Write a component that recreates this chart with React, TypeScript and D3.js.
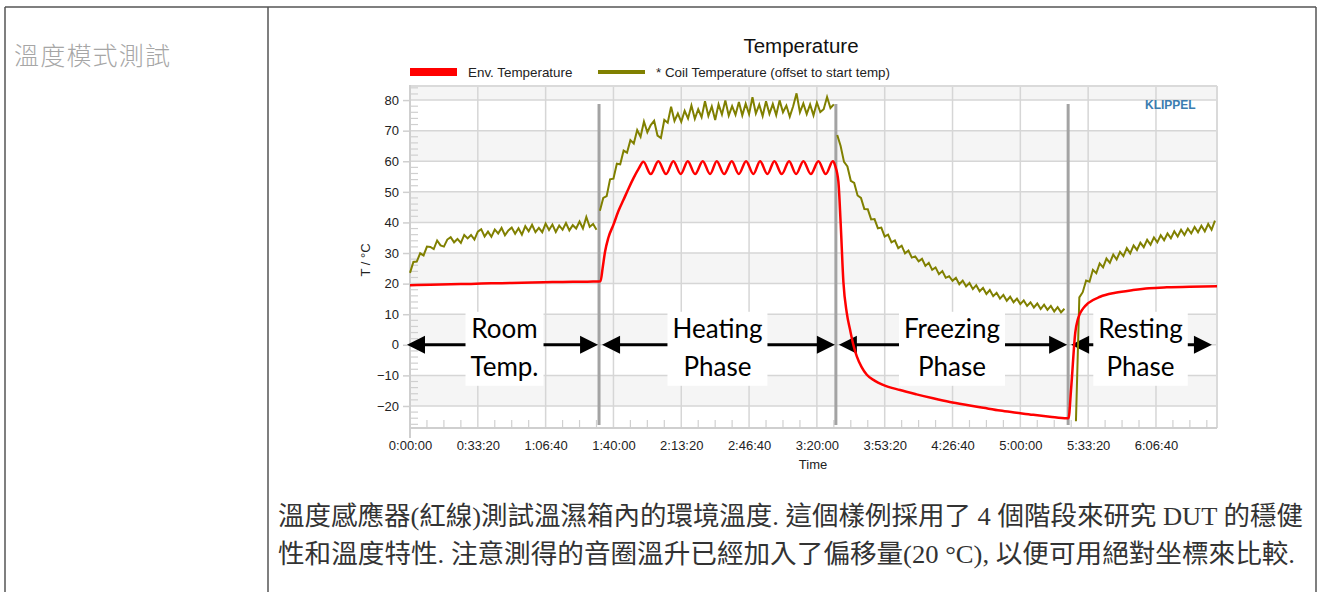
import React, { useEffect, useRef } from 'react'
import * as d3 from 'd3'

const W = 1323
const H = 592

// 軸刻度
const timeTicks = [0, 2000, 4000, 6000, 8000, 10000, 12000, 14000, 16000, 18000, 20000, 22000]
const tempTicks = [-20, -10, 0, 10, 20, 30, 40, 50, 60, 70, 80]

// 階段 (秒)
const phaseBounds = [5575, 12560, 19410]
const phaseSpans = [[0, 5575], [5575, 12560], [12560, 19410], [19410, 23680]]
const phaseNames = [['Room', 'Temp.'], ['Heating', 'Phase'], ['Freezing', 'Phase'], ['Resting', 'Phase']]

// 環境溫度 [秒, °C]
const envTemp = [
  [0, 19.5], [600, 19.6], [1200, 19.8], [1800, 19.9], [2400, 20.1], [3000, 20.2], [3600, 20.4],
  [4200, 20.5], [4800, 20.6], [5400, 20.7], [5620, 20.8],
  [5680, 25.0], [5752, 30.4], [5850, 35.0], [5998, 39.2], [6150, 43.8], [6293, 47.3], [6450, 51.2],
  [6588, 54.4], [6740, 57.5], [6882, 59.8],
  [7100, 55.8], [7324, 60], [7552, 55.8], [7767, 60], [7985, 55.8], [8192, 60], [8407, 55.8],
  [8634, 60], [8850, 55.8], [9047, 60], [9263, 55.8], [9490, 60], [9696, 55.8], [9912, 60],
  [10127, 55.8], [10324, 60], [10540, 55.8], [10746, 60], [10965, 55.8], [11180, 60], [11386, 55.8],
  [11602, 60], [11820, 55.8], [12044, 60], [12263, 55.8], [12469, 60],
  [12540, 58.5], [12634, 53.3], [12700, 40], [12782, 20.5], [12880, 10.5], [12979, 4.9], [13080, -0.2],
  [13177, -3.8], [13320, -7.3], [13472, -9.8], [13700, -11.7], [13953, -13.1], [14454, -14.8],
  [14940, -16.2], [15428, -17.5], [15920, -18.7], [16422, -19.7], [16910, -20.6], [17404, -21.5],
  [17890, -22.2], [18378, -22.9], [18870, -23.5], [19372, -24],
  [19420, -24], [19500, -14], [19620, 4], [19700, 8.5], [19853, 11.9], [20000, 13.6], [20354, 15.7],
  [20800, 17], [21327, 17.9], [21800, 18.5], [22321, 18.8], [23000, 19], [23800, 19.1],
]

// 音圈溫度 (每 100 秒一點, 每個階段一段)
const COIL_STEP = 100
const coilStarts = [0, 5600, 12600, 19640]
const coilRoom = [
  23.5, 27.1, 27.2, 29.9, 29.2, 32.1, 32.0, 31.3, 34.1, 32.5,
  32.1, 34.4, 35.2, 33.5, 34.6, 33.3, 35.9, 34.8, 35.9, 34.4,
  37.0, 37.8, 35.4, 37.0, 35.3, 37.7, 36.4, 38.2, 35.8, 37.4,
  38.3, 36.3, 38.1, 36.0, 38.8, 37.1, 39.2, 36.8, 38.2, 36.8,
  39.6, 37.5, 39.3, 36.9, 39.0, 37.6, 39.8, 37.4, 39.1, 38.0,
  40.3, 38.0, 41.8, 38.6, 39.5, 37.6,
]
const coilHeat = [
  43.8, 48.0, 48.6, 54.1, 54.3, 59.2, 59.0, 63.5, 62.8, 66.9,
  65.8, 70.2, 68.0, 73.0, 69.5, 71.8, 73.2, 68.4, 67.6, 73.5,
  72.6, 77.8, 73.2, 75.6, 72.9, 76.5, 74.0, 78.2, 73.9, 77.0,
  74.4, 79.6, 74.8, 77.9, 73.5, 78.6, 75.3, 79.9, 74.9, 78.0,
  75.2, 79.4, 75.0, 78.8, 75.4, 80.9, 75.6, 78.5, 74.8, 79.6,
  75.5, 78.7, 75.1, 79.9, 76.0, 78.2, 74.6, 78.0, 82.2, 76.0,
  78.9, 75.4, 78.6, 75.0, 79.2, 76.1, 77.0, 81.0, 77.4, 78.6,
]
const coilFreeze = [
  68.6, 65.0, 59.8, 58.3, 53.6, 52.9, 48.8, 48.0, 44.4, 44.3,
  41.0, 41.1, 38.1, 38.3, 35.4, 36.0, 33.5, 34.1, 31.6, 32.4,
  29.9, 30.8, 28.5, 28.9, 27.3, 28.1, 25.8, 26.8, 24.5, 25.3,
  23.1, 24.1, 21.9, 22.4, 20.9, 21.9, 19.8, 21.0, 19.1, 20.2,
  18.2, 19.5, 17.5, 18.6, 16.6, 17.9, 15.9, 17.0, 15.1, 16.3,
  14.4, 15.7, 13.9, 15.1, 13.3, 14.5, 12.7, 13.9, 12.2, 13.5,
  11.7, 13.1, 11.4, 12.7, 10.9, 12.3, 10.6, 11.8,
]
const coilRest = [
  -25, 15.5, 17.2, 21.0, 20.6, 24.5, 23.4, 26.6, 25.3, 28.2,
  26.8, 29.5, 27.9, 30.4, 29.0, 31.6, 29.9, 32.5, 31.0, 33.4,
  31.9, 34.3, 32.7, 35.1, 33.5, 35.8, 34.2, 36.4, 34.8, 37.1,
  35.4, 37.6, 35.9, 38.0, 36.4, 38.5, 36.8, 38.9, 37.1, 39.5,
  37.6, 40.6,
]
const coilSegments = [coilRoom, coilHeat, coilFreeze, coilRest]

const legendItems = [
  { label: 'Env. Temperature', color: '#ff0000', h: 8 },
  { label: '* Coil Temperature (offset to start temp)', color: '#808000', h: 4 },
]

const noteLines = [
  '溫度感應器(紅線)測試溫濕箱內的環境溫度. 這個樣例採用了 4 個階段來研究 DUT 的穩健',
  '性和溫度特性. 注意測得的音圈溫升已經加入了偏移量(20 °C), 以便可用絕對坐標來比較.',
]
const noteWidths = [1025, 1017]

const pad2 = (n: number) => String(n).padStart(2, '0')
const fmtTime = (s: number) =>
  `${Math.floor(s / 3600)}:${pad2(Math.floor((s % 3600) / 60))}:${pad2(s % 60)}`

const SANS = "'Liberation Sans', Arial, sans-serif"

export default function App() {
  const ref = useRef<SVGSVGElement>(null)

  useEffect(() => {
    const svg = d3.select(ref.current)
    svg.selectAll('*').remove()

    // 表格框線
    const frame = svg.append('g').attr('stroke', '#555').attr('stroke-width', 1.5)
    frame.append('line').attr('x1', 5).attr('x2', 1316).attr('y1', 7).attr('y2', 7)
    frame.append('line').attr('x1', 5).attr('x2', 5).attr('y1', 7).attr('y2', H)
    frame.append('line').attr('x1', 268).attr('x2', 268).attr('y1', 7).attr('y2', H)
    frame.append('line').attr('x1', 1316).attr('x2', 1316).attr('y1', 7).attr('y2', H)

    svg.append('text')
      .attr('x', 14).attr('y', 65)
      .attr('font-family', "'Noto Sans CJK TC', sans-serif")
      .attr('font-weight', 300)
      .attr('font-size', 25)
      .attr('letter-spacing', 1.2)
      .attr('fill', '#a6a6a6')
      .text('溫度模式測試')

    noteLines.forEach((line, i) => {
      svg.append('text')
        .attr('x', 278).attr('y', 525 + i * 38)
        .attr('font-family', "'Liberation Serif', 'Noto Sans CJK TC', serif")
        .attr('font-size', 26)
        .attr('fill', '#333')
        .attr('textLength', noteWidths[i])
        .attr('lengthAdjust', 'spacingAndGlyphs')
        .text(line)
    })

    // 圖表
    const left = 410, right = 1217, top = 86, bottom = 428
    const x = d3.scaleLinear().domain([0, 23800]).range([left, right])
    const y = d3.scaleLinear().domain([-27.2, 84.6]).range([bottom, top])

    const g = svg.append('g')

    // 背景條紋
    d3.range(-30, 90, 10).forEach(k => {
      if ((k / 10) % 2 !== 0) return
      const lo = Math.max(k, -27.2), hi = Math.min(k + 10, 84.6)
      g.append('rect')
        .attr('x', left).attr('width', right - left)
        .attr('y', y(hi)).attr('height', y(lo) - y(hi))
        .attr('fill', '#f5f5f5')
    })

    // 格線
    g.selectAll('.hgrid').data(tempTicks).join('line')
      .attr('x1', left).attr('x2', right)
      .attr('y1', d => y(d)).attr('y2', d => y(d))
      .attr('stroke', '#d6d6d6').attr('stroke-width', 1.5)
    g.selectAll('.vgrid').data(timeTicks.filter(d => d > 0)).join('line')
      .attr('x1', d => x(d)).attr('x2', d => x(d))
      .attr('y1', top).attr('y2', bottom)
      .attr('stroke', '#d6d6d6').attr('stroke-width', 1.5)

    // 小刻度
    g.selectAll('.ymin').data(d3.range(-26, 85, 2).filter(d => d % 10 !== 0)).join('line')
      .attr('x1', left).attr('x2', left + 8)
      .attr('y1', d => y(d)).attr('y2', d => y(d))
      .attr('stroke', '#d0d0d0').attr('stroke-width', 1.2)
    g.selectAll('.xmin').data(d3.range(500, 23800, 500).filter(d => d % 2000 !== 0)).join('line')
      .attr('x1', d => x(d)).attr('x2', d => x(d))
      .attr('y1', bottom - 8).attr('y2', bottom)
      .attr('stroke', '#d0d0d0').attr('stroke-width', 1.2)

    // 外框
    g.append('line').attr('x1', left).attr('x2', right).attr('y1', top).attr('y2', top)
      .attr('stroke', '#dadada').attr('stroke-width', 2)
    g.append('line').attr('x1', right).attr('x2', right).attr('y1', top).attr('y2', bottom)
      .attr('stroke', '#dadada').attr('stroke-width', 2)
    g.append('line').attr('x1', left).attr('x2', right).attr('y1', bottom).attr('y2', bottom)
      .attr('stroke', '#cfcfcf').attr('stroke-width', 2)
    g.append('line').attr('x1', left).attr('x2', left).attr('y1', top - 1).attr('y2', bottom + 10)
      .attr('stroke', '#cfcfcf').attr('stroke-width', 2)

    // 軸
    const yAxis = g.append('g').attr('transform', `translate(${left},0)`)
      .call(d3.axisLeft(y).tickValues(tempTicks).tickSize(7).tickPadding(4))
    yAxis.select('.domain').remove()
    yAxis.selectAll('line').attr('stroke', '#cfcfcf').attr('stroke-width', 1.5)
    yAxis.selectAll('text').attr('font-family', SANS).attr('font-size', 13).attr('fill', '#222')

    const xAxis = g.append('g').attr('transform', `translate(0,${bottom})`)
      .call(d3.axisBottom(x).tickValues(timeTicks).tickSize(0).tickPadding(13).tickFormat(d => fmtTime(+d)))
    xAxis.select('.domain').remove()
    xAxis.selectAll('text').attr('font-family', SANS).attr('font-size', 13).attr('fill', '#222')

    g.append('text').attr('x', 813).attr('y', 469).attr('text-anchor', 'middle')
      .attr('font-family', SANS).attr('font-size', 13).attr('fill', '#222').text('Time')
    g.append('text').attr('transform', 'translate(370,260) rotate(-90)').attr('text-anchor', 'middle')
      .attr('font-family', SANS).attr('font-size', 13).attr('fill', '#222').text('T / °C')

    // 標題與圖例
    svg.append('text').attr('x', 801).attr('y', 53).attr('text-anchor', 'middle')
      .attr('font-family', SANS).attr('font-size', 20.5).attr('fill', '#111').text('Temperature')
    const legendX = [410, 598]
    legendItems.forEach((it, i) => {
      svg.append('rect').attr('x', legendX[i]).attr('y', 72 - it.h / 2)
        .attr('width', 47).attr('height', it.h).attr('fill', it.color)
      svg.append('text').attr('x', legendX[i] + 58).attr('y', 76.5)
        .attr('font-family', SANS).attr('font-size', 13.4).attr('fill', '#222').text(it.label)
    })
    svg.append('text').attr('x', 1145).attr('y', 109)
      .attr('font-family', SANS).attr('font-weight', 'bold').attr('font-size', 12)
      .attr('fill', '#3b7db0').text('KLIPPEL')

    // 階段分隔線
    g.selectAll('.phase').data(phaseBounds).join('line')
      .attr('x1', d => x(d)).attr('x2', d => x(d))
      .attr('y1', 104).attr('y2', bottom - 3)
      .attr('stroke', '#a3a3a3').attr('stroke-width', 3)

    // 箭頭與標註
    const y0 = y(0)
    phaseSpans.forEach(([t0, t1], i) => {
      const xa = x(t0) + (i === 0 ? -3 : 3)
      const xb = x(t1) - 1
      g.append('line').attr('x1', xa + 10).attr('x2', xb - 10).attr('y1', y0).attr('y2', y0)
        .attr('stroke', '#000').attr('stroke-width', 3)
      g.append('path').attr('d', `M${xa},${y0}L${xa + 18},${y0 - 9}L${xa + 18},${y0 + 9}Z`).attr('fill', '#000')
      g.append('path').attr('d', `M${xb},${y0}L${xb - 18},${y0 - 9}L${xb - 18},${y0 + 9}Z`).attr('fill', '#000')
      const cx = (x(t0) + x(t1)) / 2
      const box = g.append('rect').attr('fill', '#fff')
      const lines = phaseNames[i].map((s, j) =>
        g.append('text').attr('x', cx).attr('y', y0 - 7 + j * 38).attr('text-anchor', 'middle')
          .attr('font-family', 'Lato, sans-serif').attr('font-size', 26).attr('fill', '#000').text(s))
      const w = Math.max(...lines.map(t => (t.node() as SVGTextElement).getComputedTextLength())) + 10
      box.attr('x', cx - w / 2).attr('y', y0 - 33).attr('width', w).attr('height', 74)
    })

    // 數據線
    const line = d3.line<number[]>().x(d => x(d[0])).y(d => y(d[1]))
    coilSegments.forEach((vals, i) => {
      const pts = vals.map((v, j) => [coilStarts[i] + j * COIL_STEP, v])
      g.append('path').attr('d', line(pts) as string)
        .attr('fill', 'none').attr('stroke', '#808000').attr('stroke-width', 2)
    })
    g.append('path').attr('d', line.curve(d3.curveMonotoneX)(envTemp) as string)
      .attr('fill', 'none').attr('stroke', '#ff0000').attr('stroke-width', 2.5)
      .attr('stroke-linejoin', 'round')
  }, [])

  return (
    <svg ref={ref} width={W} height={H}
      style={{ position: 'absolute', left: 0, top: 0, background: '#fff' }} />
  )
}
